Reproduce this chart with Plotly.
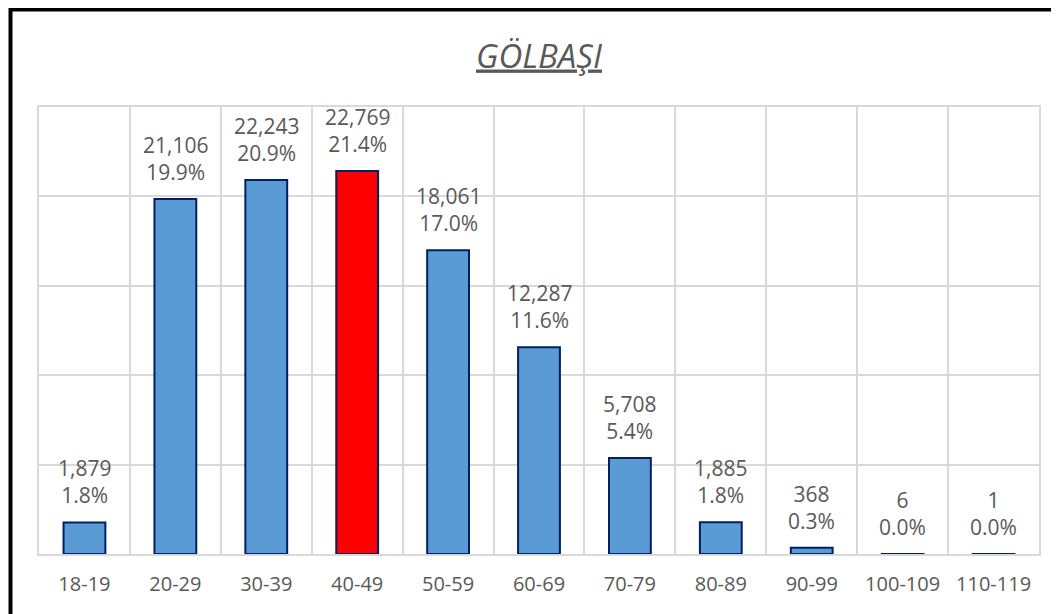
import plotly.graph_objects as go

categories = ["18-19", "20-29", "30-39", "40-49", "50-59", "60-69",
              "70-79", "80-89", "90-99", "100-109", "110-119"]
counts = [1879, 21106, 22243, 22769, 18061, 12287, 5708, 1885, 368, 6, 1]
percents = [1.767, 19.853, 20.922, 21.417, 16.988, 11.557, 5.369, 1.773, 0.346, 0.006, 0.001]
bar_colors = ["#5B9BD5", "#5B9BD5", "#5B9BD5", "#FF0000", "#5B9BD5", "#5B9BD5",
              "#5B9BD5", "#5B9BD5", "#5B9BD5", "#5B9BD5", "#5B9BD5"]

labels = [f"{c:,}<br>{p:.1f}%" for c, p in zip(counts, percents)]

FONT = "Open Sans"
GRAY = "#595959"
GRID = "#D9D9D9"

OFF = 7  # page offset
L, T = 38 - OFF, 106 - OFF
R = 1059 - (1038 - OFF)
B = 614 - (553 - OFF)
PW = 1000
PH = 447

fig = go.Figure(go.Bar(
    x=categories,
    y=percents,
    cliponaxis=False,
    marker=dict(color=bar_colors, line=dict(color="#002060", width=2)),
))

annotations = [
    dict(x=c, y=p, xref="x", yref="y", text=t, showarrow=False,
         yanchor="bottom", xanchor="center", yshift=11,
         font=dict(family=FONT, size=21, color=GRAY))
    for c, p, t in zip(categories, percents, labels)
]

fig.update_layout(
    width=1059, height=614,
    margin=dict(l=L, r=R, t=T, b=B),
    paper_bgcolor="white", plot_bgcolor="white",
    bargap=0.54,
    showlegend=False,
    annotations=annotations,
    title=dict(text="<i><u>GÖLBAŞI</u></i>", x=(538 - OFF) / 1059, xanchor="center",
               y=1 - (55 - OFF) / 614, yanchor="middle",
               font=dict(family=FONT, size=33, color=GRAY)),
    xaxis=dict(type="category", tickson="boundaries", showgrid=True, gridcolor=GRID,
               gridwidth=2, showline=True, linecolor=GRID, linewidth=2, mirror=True,
               ticks="", ticklabelstandoff=11,
               tickfont=dict(family=FONT, size=20, color=GRAY),
               range=[-0.5, 10.5]),
    yaxis=dict(range=[0, 25], dtick=5, showgrid=True, gridcolor=GRID, gridwidth=2,
               showticklabels=False, zeroline=False, showline=True, linecolor=GRID,
               linewidth=2, mirror=True),
    shapes=[dict(type="rect", xref="paper", yref="paper",
                 x0=(9.5 - 38) / PW, x1=1.08,
                 y0=-0.3, y1=1 + (106 - 8.5) / PH,
                 line=dict(color="black", width=4), fillcolor="rgba(0,0,0,0)",
                 layer="above")],
)

fig.write_html("out.html")
